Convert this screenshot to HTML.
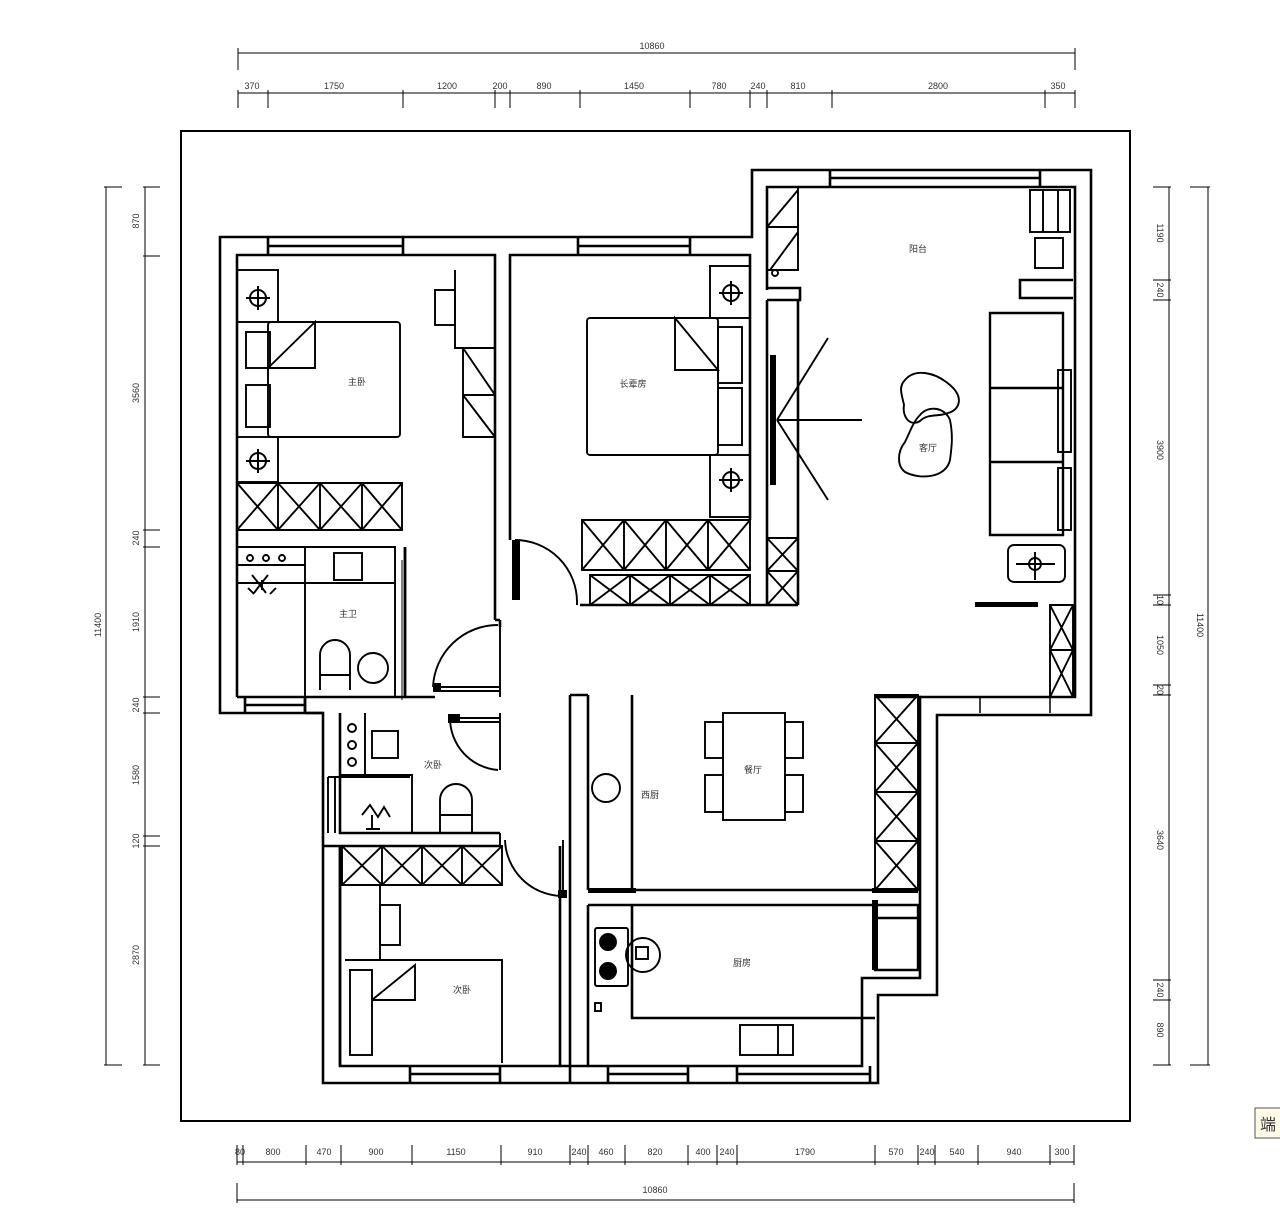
<!DOCTYPE html>
<html><head><meta charset="utf-8"><style>
html,body{margin:0;padding:0;background:#fff;}
svg{display:block;}
text{font-family:"Liberation Sans","Noto Sans CJK SC",sans-serif;fill:#333;}
</style></head><body>
<svg width="1280" height="1211" viewBox="0 0 1280 1211" xmlns="http://www.w3.org/2000/svg">
<rect width="1280" height="1211" fill="#fff"/>
<rect x="181" y="131" width="949" height="990" fill="none" stroke="#000" stroke-width="2"/>

<g stroke="#000" stroke-width="1" fill="none">
 <line x1="238" y1="53" x2="1075" y2="53"/>
 <line x1="238" y1="48" x2="238" y2="70"/><line x1="1075" y1="48" x2="1075" y2="70"/>
 <line x1="238" y1="93" x2="1075" y2="93"/>
 <path d="M238 90V108M268 90V108M403 90V108M495 90V108M510 90V108M580 90V108M690 90V108M750 90V108M767 90V108M832 90V108M1045 90V108M1075 90V108"/>
 <line x1="237" y1="1162" x2="1074" y2="1162"/>
 <path d="M237 1145V1165M243 1145V1165M306 1145V1165M341 1145V1165M412 1145V1165M501 1145V1165M570 1145V1165M588 1145V1165M625 1145V1165M688 1145V1165M717 1145V1165M737 1145V1165M875 1145V1165M918 1145V1165M935 1145V1165M978 1145V1165M1050 1145V1165M1074 1145V1165"/>
 <line x1="237" y1="1200" x2="1074" y2="1200"/>
 <path d="M237 1183V1203M1074 1183V1203"/>
 <line x1="106" y1="187" x2="106" y2="1065"/>
 <path d="M104 187H122M104 1065H122"/>
 <line x1="145" y1="187" x2="145" y2="1065"/>
 <path d="M143 187H160M143 256H160M143 530H160M143 547H160M143 697H160M143 713H160M143 836H160M143 846H160M143 1065H160"/>
 <line x1="1169" y1="187" x2="1169" y2="1065"/>
 <path d="M1153 187H1171M1153 280H1171M1153 300H1171M1153 595H1171M1153 605H1171M1153 685H1171M1153 695H1171M1153 980H1171M1153 1000H1171M1153 1065H1171"/>
 <line x1="1208" y1="187" x2="1208" y2="1065"/>
 <path d="M1190 187H1210M1190 1065H1210"/>
</g>
<g font-size="9" text-anchor="middle">
 <text x="652" y="49">10860</text>
 <text x="252" y="89">370</text><text x="334" y="89">1750</text><text x="447" y="89">1200</text><text x="500" y="89">200</text><text x="544" y="89">890</text><text x="634" y="89">1450</text><text x="719" y="89">780</text><text x="758" y="89">240</text><text x="798" y="89">810</text><text x="938" y="89">2800</text><text x="1058" y="89">350</text>
 <text x="240" y="1155">80</text><text x="273" y="1155">800</text><text x="324" y="1155">470</text><text x="376" y="1155">900</text><text x="456" y="1155">1150</text><text x="535" y="1155">910</text><text x="579" y="1155">240</text><text x="606" y="1155">460</text><text x="655" y="1155">820</text><text x="703" y="1155">400</text><text x="727" y="1155">240</text><text x="805" y="1155">1790</text><text x="896" y="1155">570</text><text x="927" y="1155">240</text><text x="957" y="1155">540</text><text x="1014" y="1155">940</text><text x="1062" y="1155">300</text>
 <text x="655" y="1193">10860</text>
 <g transform="translate(101,625) rotate(-90)"><text>11400</text></g>
 <g transform="translate(139,221) rotate(-90)"><text>870</text></g>
 <g transform="translate(139,393) rotate(-90)"><text>3560</text></g>
 <g transform="translate(139,538) rotate(-90)"><text>240</text></g>
 <g transform="translate(139,622) rotate(-90)"><text>1910</text></g>
 <g transform="translate(139,705) rotate(-90)"><text>240</text></g>
 <g transform="translate(139,775) rotate(-90)"><text>1580</text></g>
 <g transform="translate(139,841) rotate(-90)"><text>120</text></g>
 <g transform="translate(139,955) rotate(-90)"><text>2870</text></g>
 <g transform="translate(1157,233) rotate(90)"><text>1190</text></g>
 <g transform="translate(1157,290) rotate(90)"><text>240</text></g>
 <g transform="translate(1157,450) rotate(90)"><text>3900</text></g>
 <g transform="translate(1157,600) rotate(90)"><text>10</text></g>
 <g transform="translate(1157,645) rotate(90)"><text>1050</text></g>
 <g transform="translate(1157,690) rotate(90)"><text>20</text></g>
 <g transform="translate(1157,840) rotate(90)"><text>3640</text></g>
 <g transform="translate(1157,990) rotate(90)"><text>240</text></g>
 <g transform="translate(1157,1030) rotate(90)"><text>890</text></g>
 <g transform="translate(1197,625) rotate(90)"><text>11400</text></g>
</g>
<rect x="1255" y="1108" width="30" height="30" fill="#fffbe8" stroke="#555"/>
<text x="1260" y="1130" font-size="16" fill="#000">端</text>

<g stroke="#000" stroke-width="2.6" fill="none">
 <path d="M220 713V237H752V170H1091V715H937V995H878V1083H323V713Z"/>
 <path d="M237 697V255H495V620"/>
 <path d="M510 540V255H750V300"/>
 <path d="M767 290V187H1075V697H920"/>
 <path d="M875 697H920V978H862V1066H340V846"/>
 <path d="M268 237V255M403 237V255M268 246H403"/>
 <path d="M578 237V255M690 237V255M578 246H690"/>
 <path d="M830 170V187M1040 170V187M830 178H1040"/>
 <path d="M245 697V713M305 697V713M245 705H305"/>
 <path d="M410 1066V1083M500 1066V1083M410 1074H500"/>
 <path d="M608 1066V1083M688 1066V1083M608 1074H688"/>
 <path d="M737 1066V1083M870 1066V1083M737 1074H870"/>
 <path d="M237 697H405V547"/>
 <path d="M305 697V713M305 713H323"/>
 <path d="M405 697H435M495 620H500M500 627V620"/>
 <path d="M340 713V833H500M323 846H500M340 846V1066"/>
 <path d="M560 846V1066M570 695V1083M588 695V890"/>
 <path d="M570 695H588"/>
 <path d="M588 890H918M588 905H875M632 905V1018H875"/>
 <path d="M632 695V890"/>
 <path d="M588 905V1066"/>
 <path d="M580 605H798M750 300V520M767 300V605M767 300H800V288H767M798 300V605"/>
 <path d="M1073 280H1020V298H1073"/>
 <path d="M405 547V697"/>
</g>

<g stroke="#000" stroke-width="1.9" fill="none">
 <rect x="237" y="270" width="41" height="52"/>
 <rect x="237" y="437" width="41" height="45"/>
 <rect x="268" y="322" width="132" height="115" rx="3"/>
 <path d="M268 368L315 322V368H268"/>
 <rect x="246" y="332" width="24" height="36"/><rect x="246" y="385" width="24" height="42"/>
 <path d="M237 483H402V530H237ZM278 483V530M320 483V530M362 483V530M237 483L278 530M278 483L237 530M278 483L320 530M320 483L278 530M320 483L362 530M362 483L320 530M362 483L402 530M402 483L362 530"/>
 <rect x="435" y="290" width="20" height="35"/>
 <path d="M455 270V348H495M463 348V437H495M463 348L495 395M463 395H495M463 395L495 437"/>
 <path d="M237 547H395V697M237 583H395M305 547V697M237 565H305"/>
 <circle cx="250" cy="558" r="3"/><circle cx="266" cy="558" r="3"/><circle cx="282" cy="558" r="3"/>
 <path d="M252 575l8 10l-6 8M268 575l-8 10l6 8M262 580v10M248 588l6 6M276 588l-6 6"/>
 <rect x="334" y="553" width="28" height="27"/>
 <path d="M320 690V655a15 15 0 0 1 30 0V690M320 675H350"/>
 <circle cx="373" cy="668" r="15"/>
 <path d="M402 560V700" stroke-width="1"/>
 <rect x="587" y="318" width="131" height="137" rx="3"/>
 <path d="M675 318L718 370H675Z"/>
 <rect x="718" y="327" width="24" height="56"/><rect x="718" y="388" width="24" height="57"/>
 <rect x="710" y="266" width="40" height="52"/><rect x="710" y="455" width="40" height="62"/>
 <path d="M582 520H750V570H582ZM624 520V570M666 520V570M708 520V570M582 520L624 570M624 520L582 570M624 520L666 570M666 520L624 570M666 520L708 570M708 520L666 570M708 520L750 570M750 520L708 570"/>
 <path d="M590 575H750V605H590ZM630 575V605M670 575V605M710 575V605M590 575L630 605M630 575L590 605M630 575L670 605M670 575L630 605M670 575L710 605M710 575L670 605M710 575L750 605M750 575L710 605"/>
 <path d="M767 538H798M767 571H798M767 538L798 571M798 538L767 571M767 571L798 605M798 571L767 605"/>
 <path d="M767 187H798V270H767M767 227H798M798 190L767 227M798 232L770 270"/>
 <circle cx="775" cy="273" r="3"/>
 <path d="M777 420L828 338M777 420H862M777 420L828 500"/>
 <path d="M990 313H1063V535H990ZM990 388H1063M990 462H1063" stroke-width="2.4"/>
 <rect x="1058" y="370" width="13" height="82"/><rect x="1058" y="468" width="13" height="62"/>
 <path d="M905 380c10-12 30-8 45 5c14 12 10 25-2 28c-8 4-20 0-28 8c-10 6-18-4-16-16c-2-10-6-18 1-25Z"/>
 <path d="M920 415c8-10 25-8 30 5c3 15 2 25 0 40c-4 18-30 20-45 12c-8-6-8-20 0-30c5-10 8-20 15-27Z"/>
 <rect x="1008" y="545" width="57" height="37" rx="6"/>
 <path d="M1016 564H1055M1035 552V580"/><circle cx="1035" cy="564" r="6"/>
 <path d="M1050 605H1073V697H1050ZM1050 650H1073M1050 605L1073 650M1073 605L1050 650M1050 650L1073 697M1073 650L1050 697"/>
 <path d="M980 697V713M1050 697V713" stroke-width="1.5"/>
 <rect x="1030" y="190" width="40" height="42"/><path d="M1043 190V232M1058 190V232"/>
 <rect x="1035" y="238" width="28" height="30"/>
 <g stroke-width="2">
  <circle cx="258" cy="298" r="8"/><path d="M246 298H270M258 286V310"/>
  <circle cx="258" cy="461" r="8"/><path d="M246 461H270M258 449V473"/>
  <circle cx="731" cy="293" r="8"/><path d="M719 293H743M731 281V305"/>
  <circle cx="731" cy="480" r="8"/><path d="M719 480H743M731 468V492"/>
 </g>
 <path d="M340 775H412V833M365 713V775M328 777H410M328 777V833M335 777V833"/>
 <circle cx="352" cy="728" r="4"/><circle cx="352" cy="745" r="4"/><circle cx="352" cy="762" r="4"/>
 <rect x="372" y="731" width="26" height="27"/>
 <path d="M440 833V800a16 16 0 0 1 32 0V833M440 815H472"/>
 <path d="M362 815l8-10l8 12l6-10l6 10M372 815v14M366 829h14"/>
 <path d="M342 846H502V885H342ZM382 846V885M422 846V885M462 846V885M342 846L382 885M382 846L342 885M382 846L422 885M422 846L382 885M422 846L462 885M462 846L422 885M462 846L502 885M502 846L462 885"/>
 <path d="M380 885V960"/><rect x="380" y="905" width="20" height="40"/>
 <path d="M345 960H502V1063"/>
 <rect x="350" y="970" width="22" height="85"/>
 <path d="M372 1000L415 965V1000H372"/>
 <rect x="723" y="713" width="62" height="107"/>
 <rect x="705" y="722" width="18" height="36"/><rect x="705" y="775" width="18" height="37"/>
 <rect x="785" y="722" width="18" height="36"/><rect x="785" y="775" width="18" height="37"/>
 <circle cx="606" cy="788" r="14"/>
 <path d="M875 695H918V890H875ZM875 743H918M875 792H918M875 841H918M875 695L918 743M918 695L875 743M875 743L918 792M918 743L875 792M875 792L918 841M918 792L875 841M875 841L918 890M918 841L875 890"/>
 <rect x="595" y="928" width="33" height="58" rx="2"/>
 <circle cx="608" cy="942" r="8" fill="#000"/><circle cx="608" cy="971" r="8" fill="#000"/>
 <circle cx="643" cy="955" r="17"/><rect x="636" y="947" width="12" height="12"/>
 <rect x="740" y="1025" width="53" height="30"/><path d="M778 1025V1055"/>
 <path d="M875 905H918V970H875Z" stroke-width="2.4"/><path d="M875 918H918" stroke-width="2.4"/>
 <rect x="595" y="1003" width="6" height="8"/>
</g>
<g fill="#000">
 <rect x="770" y="355" width="6" height="130"/>
 <rect x="975" y="602" width="63" height="5"/>
 <rect x="588" y="888" width="48" height="5"/>
 <rect x="872" y="888" width="46" height="5"/>
 <rect x="872" y="900" width="6" height="70"/>
 <rect x="512" y="540" width="8" height="60"/>
 <rect x="433" y="683" width="8" height="9"/>
 <rect x="448" y="714" width="12" height="9"/>
 <rect x="558" y="890" width="9" height="8"/>
</g>
<g stroke="#000" stroke-width="1.9" fill="none">
 <path d="M440 687H500M440 691H500M460 718H500M460 722H500M563 840V895"/>
 <path d="M515 540a62 62 0 0 1 62 62"/>
 <path d="M433 687a65 65 0 0 1 65 -62"/>
 <path d="M450 718a52 52 0 0 0 48 52"/>
 <path d="M505 840a58 58 0 0 0 56 56"/>
 <path d="M500 620V697M500 713V770M500 833V846M577 600V605"/>
</g>

<g font-size="9" text-anchor="middle" fill="#333">
 <text x="357" y="385">主卧</text>
 <text x="633" y="387">长辈房</text>
 <text x="348" y="617">主卫</text>
 <text x="918" y="252">阳台</text>
 <text x="928" y="451">客厅</text>
 <text x="433" y="768">次卧</text>
 <text x="753" y="773">餐厅</text>
 <text x="650" y="798">西厨</text>
 <text x="742" y="966">厨房</text>
 <text x="462" y="993">次卧</text>
</g>
</svg>
</body></html>
